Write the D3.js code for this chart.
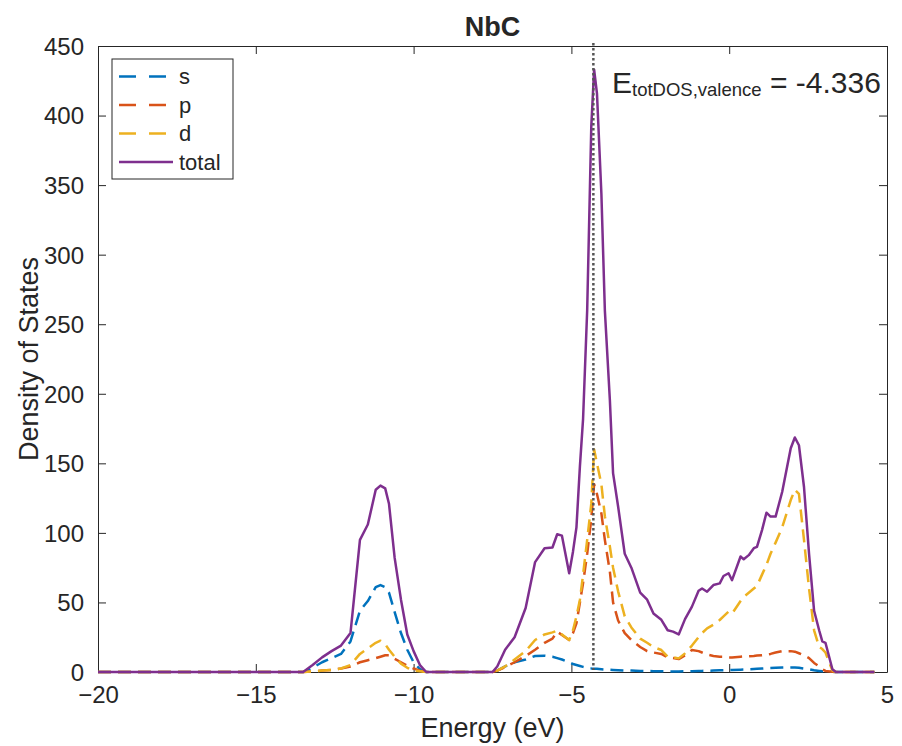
<!DOCTYPE html>
<html>
<head>
<meta charset="utf-8">
<script src="https://cdn.jsdelivr.net/npm/d3@7"></script>
<style>
  html, body { margin: 0; padding: 0; background: #fff; }
  svg { display: block; }
  text { font-family: "Liberation Sans", Arial, Helvetica, sans-serif; fill: #262626; }
</style>
</head>
<body>
<div id="chart"></div>
<script>
// ---------------- data ----------------
const title = "NbC";
const xLabel = "Energy (eV)";
const yLabel = "Density of States";
const xTicks = [-20, -15, -10, -5, 0, 5];
const yTicks = [0, 50, 100, 150, 200, 250, 300, 350, 400, 450];
const seriesNames = ["s", "p", "d", "total"];
const eValence = -4.336;

const energy = [
  -20, -13.5, -13.2, -12.9, -12.6, -12.3, -12.0, -11.7, -11.45, -11.2, -11.05, -10.9, -10.78, -10.6, -10.4, -10.2, -10.0, -9.8, -9.6,
  -7.5, -7.35, -7.1, -6.8, -6.45, -6.15, -5.85, -5.6, -5.45, -5.3, -5.07, -4.95, -4.84, -4.73, -4.63, -4.5, -4.37, -4.28, -4.19, -4.05,
  -3.94, -3.78, -3.68, -3.52, -3.31, -3.1, -2.82, -2.6, -2.4, -2.15, -1.95, -1.78, -1.6, -1.4, -1.18, -0.97, -0.86, -0.7, -0.5, -0.3,
  -0.18, -0.02, 0.09, 0.36, 0.46, 0.62, 0.78, 0.88, 1.04, 1.18, 1.31, 1.47, 1.68, 1.95, 2.08, 2.21, 2.37, 2.53, 2.69, 2.85, 2.95, 3.05,
  3.27, 3.38, 4.6
];
const sDOS = [
  0, 0, 3, 7, 10, 13, 22, 44, 51, 61, 62.5, 61, 57, 43, 28, 16, 7, 2, 0,
  0, 1, 4, 7, 9, 11.5, 11.7, 11, 10, 9, 7, 5.7, 5, 4.3, 3.7, 3, 2.6, 2.4, 2.3, 2,
  1.8, 1.6, 1.5, 1.3, 1.1, 1, 0.8, 0.7, 0.6, 0.5, 0.5, 0.4, 0.4, 0.5, 0.6, 0.7, 0.8, 0.9, 1.0, 1.2,
  1.3, 1.4, 1.5, 1.7, 1.8, 2, 2.2, 2.3, 2.5, 2.7, 2.8, 3.0, 3.2, 3.3, 3.2, 3, 2.5, 2, 1.3, 0.8, 0.5, 0.3,
  0.1, 0, 0
];
const pDOS = [
  0, 0, 0.5, 1, 1.5, 2.5, 4, 7, 8.5, 10, 11, 12, 12, 9.5, 7, 4.5, 2.5, 1, 0,
  0, 1, 3.5, 7, 11.5, 16, 21, 24, 29, 26.6, 23, 28, 35, 50, 64, 85, 110, 135, 128, 114,
  95, 72, 50, 37, 28, 23, 18, 15, 14, 13, 10.5, 10, 9.3, 12, 15.8, 15, 14, 12.5, 11.5, 11,
  11, 10.5, 10.5, 11, 11.2, 11.3, 11.5, 11.8, 12, 12.5, 13, 14, 15, 15, 14.6, 13.5, 12, 10, 6.5, 4, 2, 0.8,
  0.2, 0, 0
];
const dDOS = [
  0, 0, 0.5, 1, 1.5, 2.5, 5, 13, 17, 21, 22.5, 20, 16, 11, 6, 3, 1, 0.5, 0,
  0, 1, 4, 9, 15, 23, 27, 28.5, 29.7, 27, 23, 30, 40, 52, 70, 95, 121, 160, 150, 135,
  112, 90, 75, 58, 40, 32, 24, 21, 18, 15.8, 11, 10.5, 9.8, 13.4, 19, 25, 28, 31.4, 34, 37.4,
  40, 43.4, 42, 51, 54, 57, 60, 61.8, 70, 77, 85, 93, 104, 123.6, 131, 128, 95, 60, 30, 18, 16.5, 14,
  1, 0, 0
];
const totalDOS = [
  0, 0, 5, 10.5, 15, 19, 28, 95, 106, 131, 134, 132, 121, 82, 52, 27, 15, 5, 0,
  0, 4, 16, 25, 46, 79, 89, 89.5, 99, 98, 71, 86.5, 104, 148, 182, 260, 392, 433, 416, 344,
  260, 195, 143, 119, 85, 75, 57, 52, 42, 37.5, 30, 29, 27, 38, 47, 58.4, 60, 57.7, 62.5, 63.7,
  69, 71, 66, 83, 81, 84, 89, 90, 102, 114.5, 111.7, 111.7, 129.6, 160.8, 168.6, 163, 133, 85, 44, 30, 22, 21,
  2, 0, 0
];

// ---------------- layout ----------------
const W = 902, H = 746;
const L = 98, R = 887, T = 46, B = 672;
const colors = ["#0072BD", "#D95319", "#EDB120", "#7E2F8E"];
const axisColor = "#262626";

const svg = d3.select("#chart").append("svg").attr("width", W).attr("height", H);

const x = d3.scaleLinear().domain([-20, 5]).range([L, R]);
const y = d3.scaleLinear().domain([0, 450]).range([B, T]);

svg.append("defs").append("clipPath").attr("id", "clip")
  .append("rect").attr("x", L).attr("y", T - 2).attr("width", R - L).attr("height", B - T + 4);

// axes box & ticks
const tickLen = 8;
const gx = svg.append("g").attr("transform", `translate(0,${B})`)
  .call(d3.axisBottom(x).tickValues(xTicks).tickSizeInner(-tickLen).tickSizeOuter(0).tickPadding(14).tickFormat(d3.format("d")));
const gxTop = svg.append("g").attr("transform", `translate(0,${T})`)
  .call(d3.axisTop(x).tickValues(xTicks).tickSizeInner(-tickLen).tickSizeOuter(0).tickFormat(""));
const gy = svg.append("g").attr("transform", `translate(${L},0)`)
  .call(d3.axisLeft(y).tickValues(yTicks).tickSizeInner(-tickLen).tickSizeOuter(0).tickPadding(14).tickFormat(d3.format("d")));
const gyR = svg.append("g").attr("transform", `translate(${R},0)`)
  .call(d3.axisRight(y).tickValues(yTicks).tickSizeInner(-tickLen).tickSizeOuter(0).tickFormat(""));

[gx, gxTop, gy, gyR].forEach(g => {
  g.select(".domain").attr("stroke", axisColor).attr("stroke-width", 1);
  g.selectAll(".tick line").attr("stroke", axisColor).attr("stroke-width", 1);
  g.selectAll(".tick text").attr("fill", axisColor).style("font-size", "24px")
    .style("font-family", '"Liberation Sans", Arial, Helvetica, sans-serif');
});
gx.selectAll(".tick text").attr("dy", "0.71em");
gy.selectAll(".tick text").attr("dy", "0.35em");

// series
const plot = svg.append("g").attr("clip-path", "url(#clip)");
const seriesVals = [sDOS, pDOS, dDOS, totalDOS];
const line = d3.line().x(d => x(d[0])).y(d => y(d[1]));
seriesVals.forEach((vals, i) => {
  const pts = energy.map((e, k) => [e, vals[k]]);
  plot.append("path").datum(pts)
    .attr("d", line)
    .attr("fill", "none")
    .attr("stroke", colors[i])
    .attr("stroke-width", 2.5)
    .attr("stroke-linejoin", "round")
    .attr("stroke-dasharray", i < 3 ? "13,7" : null);
});

// dotted valence line
svg.append("line")
  .attr("x1", x(eValence) + 1).attr("x2", x(eValence) + 1)
  .attr("y1", y(450) - 3).attr("y2", y(0) - 2)
  .attr("stroke", "#555").attr("stroke-width", 2.5)
  .attr("stroke-dasharray", "2.5,2.5");

// annotation
const ann = svg.append("text").attr("x", 612).attr("y", 93).style("font-size", "30px").attr("fill", "#000");
ann.append("tspan").text("E");
ann.append("tspan").attr("dy", 3).style("font-size", "18.5px").text("totDOS,valence");
ann.append("tspan").attr("dy", -3).text(" = " + eValence.toFixed(3));

// title & labels
svg.append("text").attr("x", (L + R) / 2).attr("y", 36).attr("text-anchor", "middle")
  .style("font-size", "27px").style("font-weight", "bold").attr("fill", "#000").text(title);
svg.append("text").attr("x", (L + R) / 2).attr("y", 737).attr("text-anchor", "middle")
  .style("font-size", "27px").text(xLabel);
svg.append("text").attr("transform", `translate(38,${(T + B) / 2}) rotate(-90)`).attr("text-anchor", "middle")
  .style("font-size", "27px").text(yLabel);

// legend
const lg = svg.append("g");
lg.append("rect").attr("x", 112).attr("y", 59).attr("width", 121).attr("height", 120)
  .attr("fill", "#fff").attr("stroke", axisColor).attr("stroke-width", 1);
seriesNames.forEach((name, i) => {
  const yy = 76.5 + i * 28.5;
  lg.append("line").attr("x1", 119).attr("x2", i < 3 ? 167 : 173).attr("y1", yy).attr("y2", yy)
    .attr("stroke", colors[i]).attr("stroke-width", 2.5)
    .attr("stroke-dasharray", i < 3 ? "17,13" : null);
  lg.append("text").attr("x", 179).attr("y", yy).attr("dy", "0.35em")
    .style("font-size", "22px").attr("fill", "#000").text(name);
});
</script>
</body>
</html>
